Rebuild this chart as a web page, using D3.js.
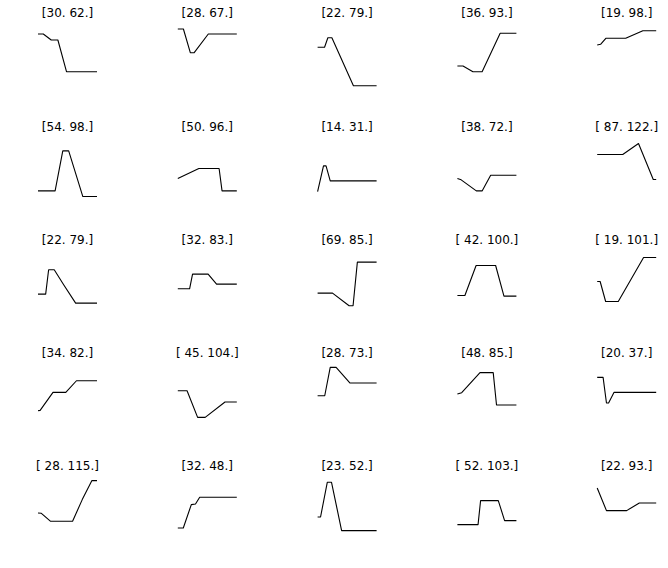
<!DOCTYPE html>
<html><head><meta charset="utf-8">
<script src="https://cdn.jsdelivr.net/npm/d3@7"></script>
<style>html,body{margin:0;padding:0;background:#fff;}</style>
</head><body>
<svg id="chart" width="668" height="568"></svg>
<script>
const titles = [
  "[30. 62.]","[28. 67.]","[22. 79.]","[36. 93.]","[19. 98.]",
  "[54. 98.]","[50. 96.]","[14. 31.]","[38. 72.]","[ 87. 122.]",
  "[22. 79.]","[32. 83.]","[69. 85.]","[ 42. 100.]","[ 19. 101.]",
  "[34. 82.]","[ 45. 104.]","[28. 73.]","[48. 85.]","[20. 37.]",
  "[ 28. 115.]","[32. 48.]","[23. 52.]","[ 52. 103.]","[22. 93.]"
];
const xs = [
  [0,9,22.4,33.7,48.3,100],[0,9.5,21.2,27.8,51.7,100],[0,11.8,17.4,24.2,60.7,100],[0,9.5,26.3,41.9,72.5,100],[0,5.7,14.6,48.3,77.4,100],
  [0,29,42,52,76,100],[0,35.7,70,75,100],[0,10,14.3,21.4,100],[0,6.4,32.1,42.1,56.4,100],[0,43.3,70,95,100],
  [0,13,18,27.5,43.5,63.8,100],[0,20,25,51.4,65.7,100],[0,25.3,53.4,60.1,67.4,100],[0,12.7,31.7,64.8,78.9,100],[0,5,14.3,35.7,78.6,100],
  [0,3.6,25.4,47.1,65.2,100],[0,15.7,33.6,46.4,80,100],[0,12.1,21.4,31.4,55,100],[0,7.3,38.3,60.7,66.3,100],[0,10,15.7,19.3,28.6,100],
  [0,5.7,21.4,58.6,75,91.4,100],[0,9.3,22.9,30,37.1,100],[0,5,16.4,23.6,40.7,100],[0,35,39.3,69.3,80,100],[0,15.7,50,71.4,100]
];
const ys = [
  [64.3,64.3,58.3,58.3,26.6,26.6],[69.3,69.3,45.6,45.6,64.3,64.3],[51,51,60.6,60.6,12.6,12.6],[32.3,32.3,26.6,26.6,65,65],[53.3,54,60,60,67.6,67.6],
  [20.7,20.7,60.7,60.7,15,15],[33,43,43,20.7,20.7],[20,45.7,45.7,30.7,30.7],[33,31.7,20.7,20.7,36.3,36.3],[57,57,68,32,32],
  [30.7,30.7,55,55,40,21.7,21.7],[36,36,50.7,50.7,40.7,40.7],[31.7,31.7,19,19,62.7,62.7],[29.3,29.3,59.3,59.3,28.7,28.7],[43.3,43.3,23.3,23.3,67.3,67.3],
  [27.3,27.7,45.7,45.7,57.3,57.3],[47.3,47.3,20.7,20.7,36,36],[42.3,42.3,70.7,70.7,55,55],[44,45.4,65.4,65.4,33,33],[60.7,60.7,35,35,45.7,45.7],
  [38.3,38,30,30,51.7,70.7,70.7],[23.3,23.3,46.7,47.3,54,54],[34.3,34.3,69,69,20.7,20.7],[26.7,26.7,50.7,50.7,30.7,30.7],[63.3,40.7,40.7,48.3,48.3]
];

const svg = d3.select("#chart");
const nCols = 5;
const colStep = 139.8, rowStep = 113.25;
const plotW = 59, plotH = 75;
const x = d3.scaleLinear().domain([0,100]).range([0, plotW]);
const y = d3.scaleLinear().domain([0,75]).range([plotH, 0]);
const line = d3.line().x(d => x(d[0])).y(d => y(d[1]));

titles.forEach((t, i) => {
  const r = Math.floor(i / nCols), c = i % nCols;
  const left = 38 + colStep * c;
  const titleY = 13.3 + rowStep * r;
  const g = svg.append("g").attr("transform", `translate(${left},${titleY + 10})`);
  g.append("text")
    .attr("x", plotW / 2).attr("y", -10)
    .attr("text-anchor", "middle").attr("dominant-baseline", "central")
    .style("font-family", "DejaVu Sans").style("font-size", "12px").attr("fill", "#000")
    .text(t);
  const pts = xs[i].map((xv, k) => [xv, ys[i][k]]);
  g.append("path").attr("d", line(pts)).attr("fill", "none")
    .attr("stroke", "#000").attr("stroke-width", 1.1).attr("stroke-linejoin", "round");
});
</script>
</body></html>
